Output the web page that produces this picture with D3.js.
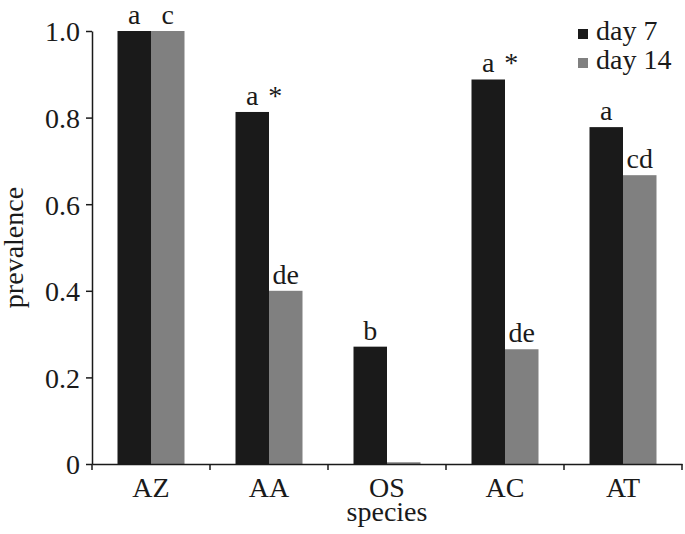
<!DOCTYPE html>
<html><head><meta charset="utf-8">
<script src="https://cdn.jsdelivr.net/npm/d3@7"></script>
<style>body{margin:0;background:#fff}</style>
</head><body><svg id="c" width="685" height="534"></svg>
<script>
const categories = ["AZ","AA","OS","AC","AT"];
const series = ["day 7","day 14"];
const day7 = [1.0, 0.813, 0.271, 0.888, 0.778];
const day14 = [1.0, 0.40, 0.004, 0.265, 0.667];
const letters7 = ["a","a","b","a","a"];
const letters14 = ["c","de","","de","cd"];
const stars7 = [false,true,false,true,false];
const yTicks = [0,0.2,0.4,0.6,0.8,1.0];
const colors = ["#1a1a1a","#808080"];

(function(){
const FONT = '"Liberation Serif","Times New Roman",serif';
const FS = "28px";
const ink = "#1a1a1a";
const svg = d3.select("#c");
const mL=92,mR=682,mT=31,mB=464;
const x = d3.scaleBand().domain(categories).range([mL,mR]).padding(0);
const x1 = d3.scaleBand().domain(series).range([25.5,92.5]).padding(0);
const y = d3.scaleLinear().domain([0,1]).range([mB,mT]);
const vals = [day7, day14];
function st(sel){ return sel.style("font-family",FONT).style("font-size",FS).attr("fill",ink); }

series.forEach((s,si)=>{
  svg.append("g").selectAll("rect").data(categories).join("rect")
    .attr("x",d=>x(d)+x1(s)).attr("width",x1.bandwidth())
    .attr("y",(d,i)=>y(vals[si][i])).attr("height",(d,i)=>y(0)-y(vals[si][i]))
    .attr("fill",colors[si]);
});

st(svg.append("g").selectAll("text").data(categories).join("text")
  .attr("x",d=>x(d)+x1("day 7")+x1.bandwidth()/2).attr("y",(d,i)=>y(day7[i])-7)
  .attr("text-anchor","middle").text((d,i)=>letters7[i]));
st(svg.append("g").selectAll("text").data(categories.filter((d,i)=>stars7[i])).join("text")
  .attr("x",d=>x(d)+x1("day 7")+x1.bandwidth()/2+23).attr("y",d=>y(day7[categories.indexOf(d)])-7)
  .attr("text-anchor","middle").text("*"));
st(svg.append("g").selectAll("text").data(categories).join("text")
  .attr("x",d=>x(d)+x1("day 14")+x1.bandwidth()/2).attr("y",(d,i)=>y(day14[i])-7)
  .attr("text-anchor","middle").text((d,i)=>letters14[i]));

const ya = svg.append("g").attr("transform",`translate(${mL},0)`)
  .call(d3.axisLeft(y).tickValues(yTicks).tickFormat(d=>d===0?"0":d3.format(".1f")(d)).tickSize(6).tickPadding(6).tickSizeOuter(0));
st(ya.selectAll("text")).attr("dy","0.35em");
const xa = svg.append("g").attr("transform",`translate(0,${mB})`)
  .call(d3.axisBottom(x).tickSize(0).tickPadding(13).tickSizeOuter(0));
st(xa.selectAll("text")).attr("dy","0.71em");
const edges = categories.map(c=>x(c)).concat([mR]);
svg.append("g").selectAll("line").data(edges).join("line")
  .attr("x1",d=>d).attr("x2",d=>d).attr("y1",mB).attr("y2",mB+6)
  .attr("stroke",ink).attr("stroke-width",1.5);
svg.selectAll(".domain").attr("stroke",ink).attr("stroke-width",1.5);
svg.selectAll(".tick line").attr("stroke",ink).attr("stroke-width",1.5);

st(svg.append("text").attr("x",(mL+mR)/2).attr("y",521).attr("text-anchor","middle").text("species"));
st(svg.append("text").attr("transform",`translate(23,${(mT+mB)/2}) rotate(-90)`).attr("text-anchor","middle").text("prevalence"));

const lg = svg.append("g");
series.forEach((s,i)=>{
  lg.append("rect").attr("x",578).attr("y",29+i*29).attr("width",10).attr("height",10).attr("fill",colors[i]);
  st(lg.append("text").attr("x",596).attr("y",40+i*29).text(s));
});
})();
</script></body></html>
